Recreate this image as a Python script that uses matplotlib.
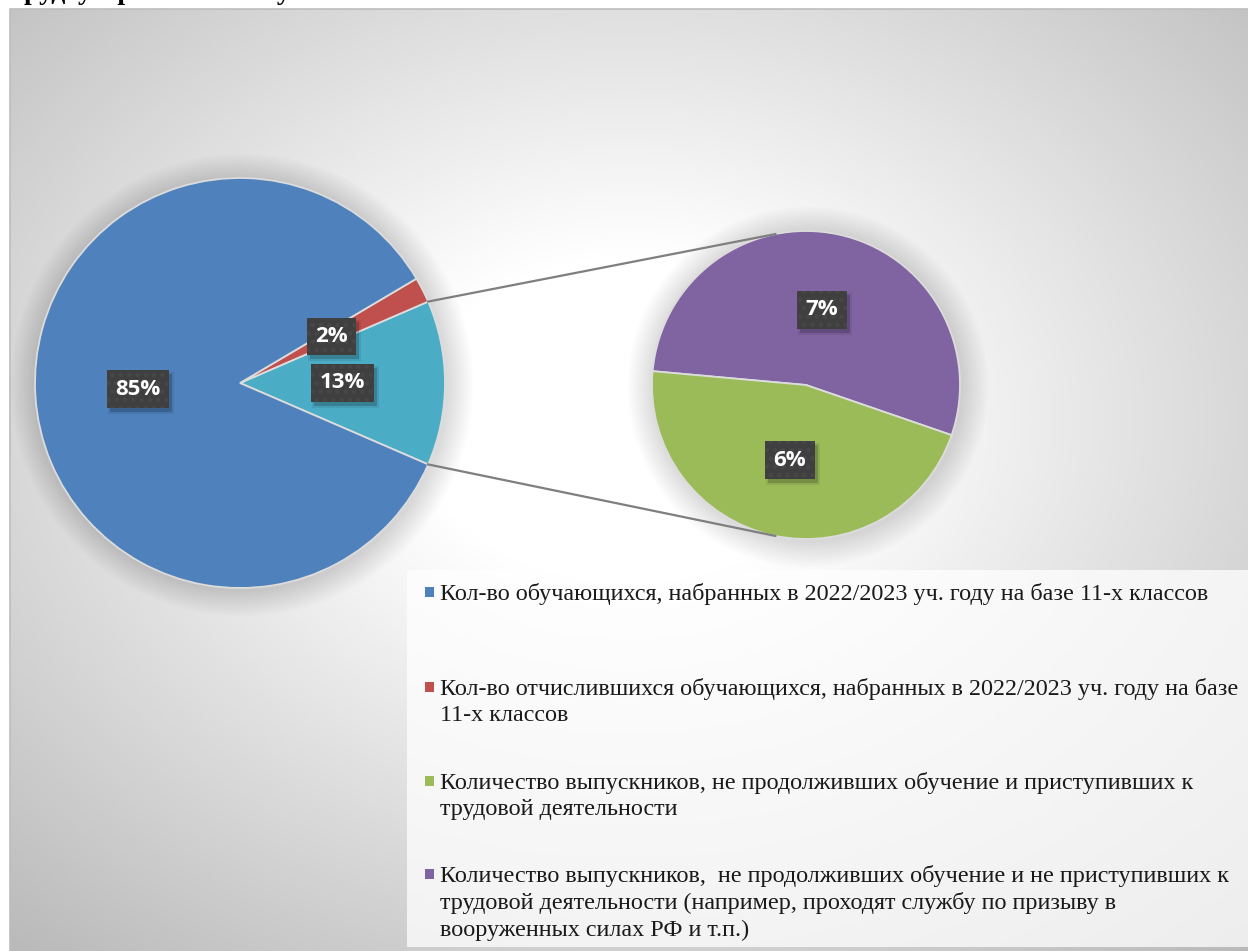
import numpy as np
import matplotlib.pyplot as plt
from matplotlib.patches import Rectangle, Circle

# ---------------------------
# data
# ---------------------------
labels = [
    "Кол-во обучающихся, набранных в 2022/2023 уч. году на базе 11-х классов",
    "Кол-во отчислившихся обучающихся, набранных в 2022/2023 уч. году на базе\n11-х классов",
    "Количество выпускников, не продолживших обучение и приступивших к\nтрудовой деятельности",
    "Количество выпускников,  не продолживших обучение и не приступивших к\nтрудовой деятельности (например, проходят службу по призыву в\nвооруженных силах РФ и т.п.)",
]
shares = [85, 2, 6, 7]
colors = ["#4F81BD", "#C0504D", "#9BBB59", "#8064A2"]
other_color = "#4BACC6"

W, H = 1248, 951
fig = plt.figure(figsize=(W / 100, H / 100), dpi=100)
fig.patch.set_facecolor("white")
ax = fig.add_axes([0, 0, 1, 1])

def py(y):
    # pixel row -> data y
    return H - y

# background of the chart area (radial grey gradient)
x0, y0 = 10, 9
xs = np.linspace(x0, W, 400)
ys = np.linspace(y0, H, 300)
X, Y = np.meshgrid(xs, ys)
u = (X - (x0 + W) / 2) / ((W - x0) / 2)
v = (Y - 420) / ((H - y0) / 2)
r = np.sqrt(u ** 2 + v ** 2)
g = 1 - 0.25 * np.clip((r - 0.35) / 1.06, 0, 1.2)
ax.imshow(np.dstack([g, g, g]), extent=(x0, W, py(H), py(y0)), origin="upper",
          zorder=0, aspect="auto")
ax.plot([x0, x0, W], [py(H), py(y0), py(y0)], color="#bdbdbd", lw=1.2, zorder=1)

# soft shadows around the pies
main_c, main_r = (240, py(383)), 205
sec_c, sec_r = (806, py(385)), 154
for c, rad in [(main_c, main_r), (sec_c, sec_r)]:
    for k in range(12):
        ax.add_patch(Circle((c[0] + 2, c[1] - 2), rad + 2 + k * 2.2, color="black",
                            alpha=0.012, lw=0, zorder=2))

other = shares[2] + shares[3]
lbl_font = dict(family="Open Sans", weight="bold", size=16, color="white")

# main pie: other, red, blue
main_vals = [other, shares[1], shares[0]]
w1, _, at1 = ax.pie(main_vals, colors=[other_color, colors[1], colors[0]],
                    startangle=-other / 100 * 360 / 2, center=main_c, radius=main_r,
                    counterclock=True, autopct="%1.0f%%", pctdistance=0.5,
                    wedgeprops=dict(edgecolor="#dcdcdc", linewidth=1.3, zorder=3),
                    textprops=lbl_font)

# secondary pie: purple, green
sec_vals = [shares[3], shares[2]]
w2, _, at2 = ax.pie(sec_vals, colors=[colors[3], colors[2]], startangle=-19,
                    center=sec_c, radius=sec_r, counterclock=True,
                    autopct=lambda p: f"{p * other / 100:.0f}%", pctdistance=0.5,
                    wedgeprops=dict(edgecolor="#dcdcdc", linewidth=1.3, zorder=3),
                    textprops=lbl_font)

plt.rcParams["hatch.linewidth"] = 2.0
for t in list(at1) + list(at2):
    t.set_zorder(6)
    t.set_bbox(dict(boxstyle="square,pad=0.38", facecolor="#3f3f3f", edgecolor="#474747",
                    hatch="..", linewidth=0))

# connector lines
ow = w1[0]
for a_main, a_sec in [(ow.theta2, 101.5), (ow.theta1, 258.5)]:
    xa = main_c[0] + main_r * np.cos(np.radians(a_main))
    ya = main_c[1] + main_r * np.sin(np.radians(a_main))
    xb = sec_c[0] + sec_r * np.cos(np.radians(a_sec))
    yb = sec_c[1] + sec_r * np.sin(np.radians(a_sec))
    ax.plot([xa, xb], [ya, yb], color="#7f7f7f", lw=1.6, zorder=4)

# legend
ax.add_patch(Rectangle((407, py(947)), W - 407, 947 - 570, facecolor="white",
                       alpha=0.75, lw=0, zorder=2))
leg_y = [593, 688, 782, 875]
for lab, col, yy in zip(labels, colors, leg_y):
    ax.add_patch(Rectangle((425, py(yy) - 4), 9, 10, facecolor=col, lw=0, zorder=4))
    ax.text(440, py(yy) + 10, lab, ha="left", va="top", fontsize=17.4,
            family="Liberation Serif", color="#1a1a1a", linespacing=1.32, zorder=4)

ax.set_xlim(0, W)
ax.set_ylim(0, H)
ax.set_aspect("auto")
ax.axis("off")

# heading cut off by the top edge
fig.text(10 / W, 1 + 1 / H, "трудоустройство выпускников", fontsize=20, weight="bold",
         family="Liberation Serif", va="baseline", ha="left")

# drop shadows of the label boxes
fig.canvas.draw()
for t in list(at1) + list(at2):
    bb = t.get_bbox_patch().get_window_extent()
    for k, a in [(0, 0.18), (2, 0.08)]:
        ax.add_patch(Rectangle((bb.x0 + 3 - k, bb.y0 - 4 - k), bb.width + 2 * k, bb.height + 2 * k,
                               facecolor="black", alpha=a, lw=0, zorder=5))

fig.savefig("out.png", dpi=100)
